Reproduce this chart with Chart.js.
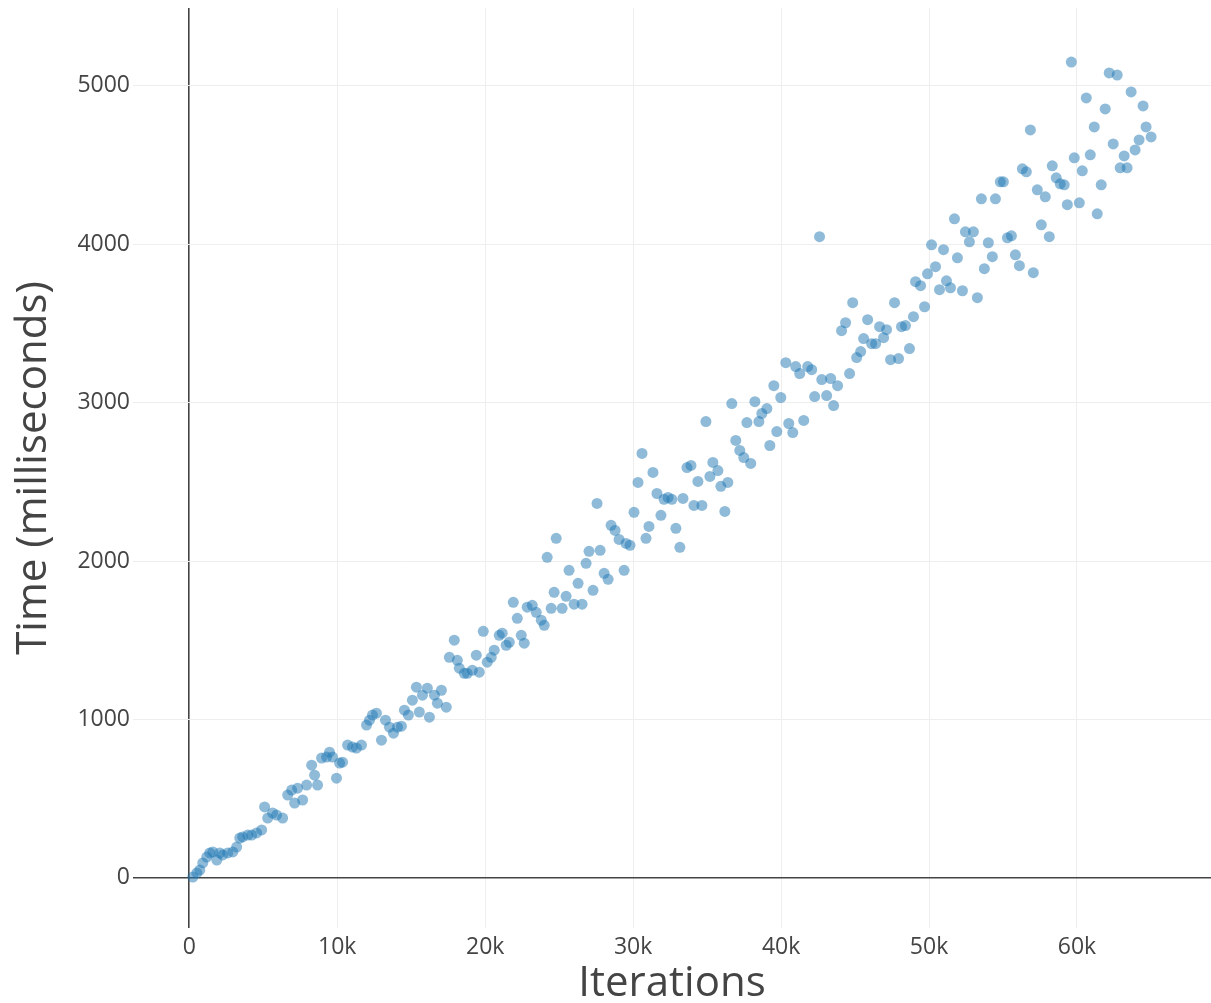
<!DOCTYPE html>
<html>
<head>
<meta charset="utf-8">
<script src="https://cdn.jsdelivr.net/npm/chart.js@4/dist/chart.umd.min.js"></script>
<style>
  html, body { margin: 0; padding: 0; background: #fff; overflow: hidden; }
  canvas { display: block; }
</style>
</head>
<body>
<canvas id="scatter" width="1211" height="1003"></canvas>
<script>
// iterations (x) and elapsed time in ms (y)
const iterations = [
  240, 510, 710, 910, 1180, 1380, 1590, 1860, 2060, 2260, 2600, 2940, 3200, 3410, 3610, 3950, 4220, 4550, 4890, 5090,
  5300, 5630, 5900, 6310, 6650, 6920, 7120, 7320, 7660, 7930, 8270, 8470, 8670, 8940, 9280, 9480, 9680, 9950, 10160, 10360,
  10700, 11030, 11300, 11640, 11980, 12180, 12380, 12650, 12990, 13260, 13530, 13800, 14070, 14340, 14540, 14810, 15080, 15350, 15550, 15760,
  16090, 16230, 16570, 16770, 17040, 17370, 17580, 17910, 18120, 18250, 18590, 18790, 19130, 19400, 19600, 19870, 20140, 20410, 20610, 20950,
  21150, 21420, 21630, 21900, 22170, 22440, 22640, 22840, 23180, 23450, 23790, 23990, 24190, 24460, 24660, 24800, 25200, 25470, 25670, 26010,
  26280, 26550, 26820, 27020, 27290, 27560, 27770, 28040, 28310, 28510, 28780, 29050, 29390, 29520, 29790, 30060, 30330, 30600, 30870, 31070,
  31340, 31610, 31880, 32090, 32360, 32620, 32890, 33160, 33370, 33640, 33910, 34110, 34380, 34650, 34920, 35190, 35390, 35730, 35930, 36200,
  36400, 36670, 36940, 37210, 37480, 37690, 37950, 38230, 38500, 38700, 39040, 39240, 39510, 39710, 39980, 40320, 40520, 40790, 40990, 41260,
  41530, 41800, 42070, 42270, 42600, 42750, 43080, 43350, 43550, 43820, 44090, 44360, 44630, 44840, 45110, 45380, 45580, 45850, 46120, 46390,
  46660, 46930, 47130, 47400, 47670, 47940, 48140, 48410, 48680, 48950, 49090, 49430, 49700, 49900, 50170, 50440, 50710, 50980, 51180, 51450,
  51720, 51920, 52260, 52460, 52730, 53000, 53270, 53540, 53740, 54010, 54280, 54490, 54820, 55030, 55300, 55570, 55840, 56110, 56310, 56580,
  56850, 57050, 57320, 57590, 57860, 58130, 58330, 58600, 58870, 59140, 59350, 59620, 59820, 60160, 60360, 60630, 60900, 61170, 61370, 61640,
  61910, 62180, 62450, 62720, 62920, 63190, 63390, 63660, 63930, 64200, 64470, 64670, 65010
];
const timesMs = [
  6, 32, 50, 95, 132, 158, 164, 113, 158, 145, 158, 164, 195, 252, 259, 271, 271, 284, 303, 448,
  378, 410, 397, 378, 523, 555, 473, 567, 492, 586, 712, 649, 586, 757, 763, 794, 763, 630, 725, 731,
  839, 826, 820, 839, 965, 996, 1028, 1040, 870, 996, 952, 914, 952, 958, 1059, 1028, 1122, 1204, 1047, 1154,
  1198, 1015, 1154, 1103, 1185, 1078, 1393, 1501, 1374, 1324, 1292, 1292, 1311, 1406, 1299, 1557, 1362, 1393, 1438, 1532,
  1545, 1469, 1488, 1740, 1639, 1532, 1482, 1709, 1721, 1677, 1627, 1595, 2024, 1702, 1803, 2144, 1702, 1778, 1942, 1728,
  1860, 1728, 1986, 2062, 1816, 2364, 2068, 1923, 1885, 2226, 2194, 2137, 1942, 2112, 2100, 2308, 2497, 2680, 2144, 2219,
  2560, 2427, 2289, 2390, 2402, 2390, 2207, 2087, 2396, 2591, 2604, 2352, 2503, 2352, 2881, 2535, 2623, 2572, 2472, 2314,
  2497, 2995, 2762, 2699, 2654, 2875, 2617, 3007, 2881, 2932, 2963, 2730, 3108, 2818, 3033, 3253, 2869, 2812, 3228, 3184,
  2888, 3228, 3209, 3039, 4048, 3146, 3045, 3153, 2982, 3108, 3455, 3505, 3184, 3632, 3285, 3323, 3405, 3524, 3373, 3373,
  3480, 3411, 3461, 3272, 3632, 3279, 3480, 3487, 3342, 3543, 3764, 3739, 3606, 3814, 3997, 3859, 3714, 3966, 3770, 3726,
  4161, 3915, 3707, 4079, 4016, 4079, 3663, 4287, 3846, 4010, 3922, 4287, 4395, 4395, 4041, 4054, 3934, 3865, 4477, 4458,
  4722, 3821, 4344, 4123, 4300, 4048, 4496, 4420, 4382, 4376, 4250, 5151, 4546, 4262, 4464, 4924, 4565, 4741, 4193, 4376,
  4855, 5082, 4634, 5069, 4483, 4558, 4483, 4962, 4596, 4659, 4874, 4741, 4678
];

const xTicks = [0, 10000, 20000, 30000, 40000, 50000, 60000];
const xTickLabels = ['0', '10k', '20k', '30k', '40k', '50k', '60k'];
const yTicks = [0, 1000, 2000, 3000, 4000, 5000];
const yTickLabels = ['0', '1000', '2000', '3000', '4000', '5000'];

const points = iterations.map((x, i) => ({ x: x, y: timesMs[i] }));

const gridColor = ctx => (ctx.tick && ctx.tick.value === 0 ? '#444' : '#eeeeee');
const gridWidth = ctx => (ctx.tick && ctx.tick.value === 0 ? 1.6 : 1);

new Chart(document.getElementById('scatter'), {
  type: 'scatter',
  data: {
    datasets: [{
      data: points,
      backgroundColor: 'rgba(31, 119, 180, 0.5)',
      borderWidth: 0,
      pointRadius: 5.5,
      pointHoverRadius: 5.5
    }]
  },
  options: {
    responsive: false,
    animation: false,
    layout: { autoPadding: false, padding: { top: 8, right: 0, left: 0, bottom: 0 } },
    plugins: { legend: { display: false }, tooltip: { enabled: false } },
    scales: {
      x: {
        type: 'linear',
        min: -3805,
        max: 69060,
        afterBuildTicks: scale => { scale.ticks = xTicks.map(v => ({ value: v })); },
        afterFit: scale => {
          scale.height = 75;
          scale.paddingLeft = 0;
          scale.paddingRight = 0;
        },
        ticks: {
          autoSkip: false,
          maxRotation: 0,
          padding: 6,
          color: '#444',
          font: { family: 'Open Sans', size: 23 },
          callback: (v, i) => xTickLabels[i]
        },
        grid: { color: gridColor, lineWidth: gridWidth, drawTicks: false },
        border: { display: false },
        title: {
          display: true,
          text: 'Iterations',
          color: '#444',
          font: { family: 'Open Sans', size: 42 },
          padding: { top: 0, bottom: -6 }
        }
      },
      y: {
        type: 'linear',
        min: -316,
        max: 5492,
        afterBuildTicks: scale => { scale.ticks = yTicks.map(v => ({ value: v })); },
        afterFit: scale => {
          scale.width = 133;
          scale.paddingTop = 0;
          scale.paddingBottom = 0;
        },
        ticks: {
          autoSkip: false,
          padding: 3,
          color: '#444',
          font: { family: 'Open Sans', size: 23 },
          callback: (v, i) => yTickLabels[i]
        },
        grid: { color: gridColor, lineWidth: gridWidth, drawTicks: false },
        border: { display: false },
        title: {
          display: true,
          text: 'Time (milliseconds)',
          color: '#444',
          font: { family: 'Open Sans', size: 42 },
          padding: { top: 9, bottom: 0 }
        }
      }
    }
  }
});
</script>
</body>
</html>
